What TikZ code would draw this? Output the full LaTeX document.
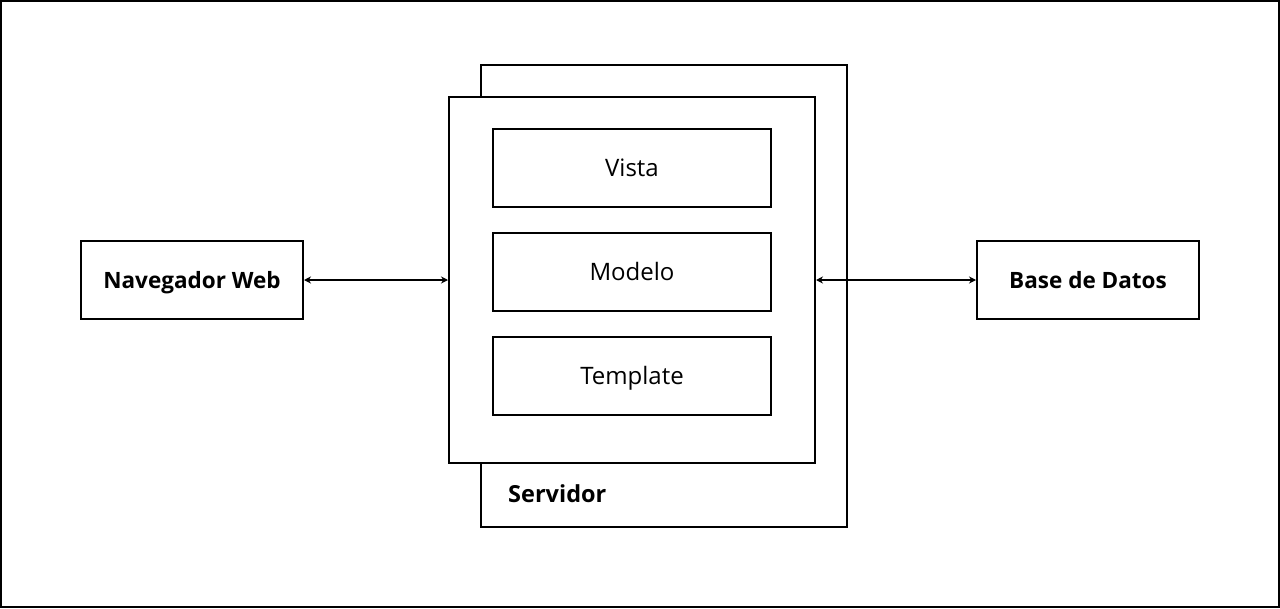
\documentclass[tikz,border=0pt]{standalone}
\usepackage{fontspec}
\setmainfont{Open Sans}
\usepackage{tikz}
\usetikzlibrary{arrows.meta}
\tikzstyle{mybox} = [draw=black, fill=white, line width=2pt, rectangle,
inner sep=0pt, font=\fontsize{24}{28}\selectfont]
\tikzstyle{endbox} = [mybox, minimum width=222pt, minimum height=78pt, text height=16pt, text depth=0pt,
font=\fontsize{22.5}{26}\selectfont\bfseries]
\tikzstyle{layerbox} = [mybox, minimum width=278pt, minimum height=78pt, text height=17pt, text depth=0pt]
\tikzstyle{link} = [line width=2pt, {Stealth[length=7pt,width=7pt]}-{Stealth[length=7pt,width=7pt]}]

\begin{document}
\begin{tikzpicture}[x=1pt, y=-1pt]
        \useasboundingbox (0,0) rectangle (1280,608);
        \draw[line width=2pt] (1,1) rectangle (1279,607);
        % servidor
        \node [mybox, minimum width=366pt, minimum height=462pt] (back) at (664,296) {};
        \node [mybox, minimum width=366pt, minimum height=366pt] (server) at (632,280) {};
        \node [anchor=base west, inner sep=0pt, font=\fontsize{23.5}{26}\selectfont\bfseries] (label) at (508,502) {Servidor};
        \node [layerbox] (vista) at (632,168) {Vista};
        \node [layerbox] (modelo) at (632,272) {Modelo};
        \node [layerbox] (template) at (632,376) {Template};
        % extremos
        \node [endbox] (browser) at (192,280) {Navegador Web};
        \node [endbox] (db) at (1088,280) {Base de Datos};
        \draw [link] (browser.east) -- (server.west);
        \draw [link] (server.east) -- (db.west);
    \end{tikzpicture}
\end{document}
